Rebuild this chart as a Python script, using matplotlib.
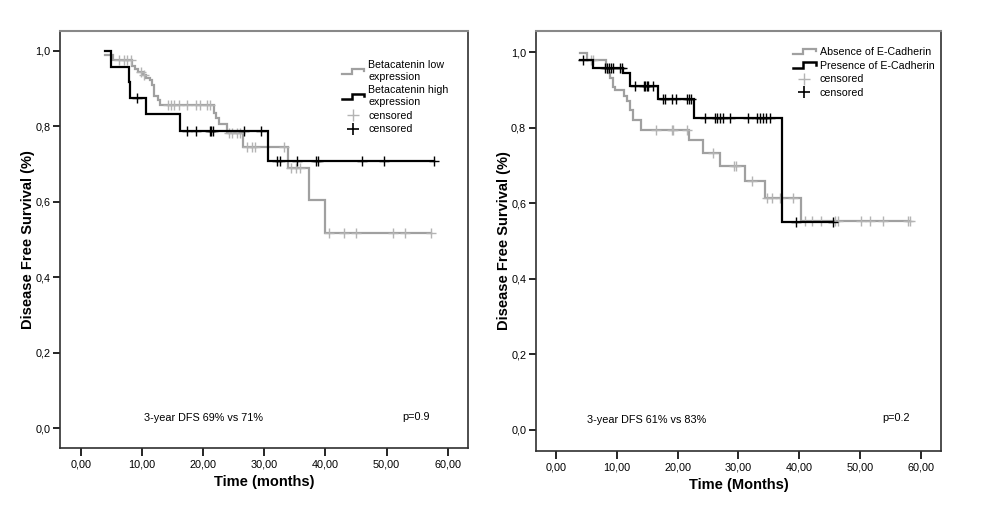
import matplotlib
matplotlib.use('Agg')
import matplotlib.pyplot as plt
import numpy as np
from matplotlib.lines import Line2D
from matplotlib.legend_handler import HandlerBase

plt.rcParams['font.family'] = ['Liberation Sans', 'DejaVu Sans']

# ---- data (time in months, survival fraction) ----
# left panel: beta-catenin
low_start = (3.9, 0.988)
low_event_t = [5.3, 8.4, 8.9, 9.3, 10.2, 10.7, 11.3, 11.7, 12.0, 12.6, 13.0,
               21.7, 22.1, 22.6, 23.9, 26.5, 33.8, 37.3, 39.9]
low_event_s = [0.976, 0.961, 0.952, 0.945, 0.936, 0.929, 0.922, 0.910, 0.881, 0.870, 0.857,
               0.835, 0.823, 0.806, 0.782, 0.744, 0.689, 0.605, 0.517]
low_end = 57.3
low_cens = [6.2, 7.1, 7.6, 8.2, 9.8, 10.4, 14.3, 14.8, 15.3, 16.0, 17.4, 18.8, 19.5,
            20.7, 21.2, 24.2, 24.7, 25.6, 26.1, 27.2, 28.0, 28.5, 33.2, 34.3, 35.1,
            35.9, 40.5, 43.0, 45.0, 51.0, 53.0, 57.3]

high_start = (3.9, 1.0)
high_event_t = [4.9, 7.9, 8.1, 10.7, 16.2, 30.6]
high_event_s = [0.958, 0.917, 0.875, 0.833, 0.788, 0.709]
high_end = 57.7
high_cens = [9.2, 17.4, 18.8, 21.1, 21.3, 21.6, 26.6, 29.4, 32.0, 32.6, 35.3,
             38.5, 38.7, 46.0, 49.6, 57.7]

# right panel: E-cadherin
abs_start = (3.9, 0.998)
abs_event_t = [5.1, 8.2, 8.6, 8.9, 9.3, 9.7, 11.1, 11.6, 12.2, 12.7, 14.0,
               21.8, 24.2, 27.0, 31.0, 34.4, 40.3]
abs_event_s = [0.978, 0.958, 0.945, 0.931, 0.909, 0.900, 0.883, 0.870, 0.846, 0.821, 0.794,
               0.767, 0.732, 0.698, 0.659, 0.613, 0.553]
abs_end = 58.2
abs_cens = [5.8, 6.1, 16.4, 19.0, 19.3, 21.5, 25.8, 29.2, 29.6, 32.2, 34.7, 35.5,
            36.8, 38.9, 41.0, 42.1, 43.5, 45.9, 46.4, 50.1, 51.6, 53.7, 57.8, 58.2]

pres_start = (3.9, 0.979)
pres_event_t = [6.0, 11.0, 12.2, 16.7, 22.7, 37.2]
pres_event_s = [0.958, 0.944, 0.911, 0.877, 0.825, 0.551]
pres_end = 45.6
pres_cens = [4.4, 8.1, 8.4, 8.7, 9.0, 9.3, 10.5, 10.8, 13.0, 14.4, 14.6, 14.9, 15.2,
             16.0, 17.6, 17.9, 19.0, 19.8, 21.5, 21.8, 22.2, 24.5, 26.2, 26.5, 27.0,
             27.4, 28.6, 31.5, 33.1, 33.6, 34.0, 34.5, 35.2, 39.4, 45.6]

left_labels = ['Betacatenin low\nexpression', 'Betacatenin high\nexpression', 'censored', 'censored']
right_labels = ['Absence of E-Cadherin', 'Presence of E-Cadherin', 'censored', 'censored']

GRAY = '#a0a0a0'
GRAY_C = '#b4b4b4'
BLACK = '#000000'


class StepHandler(HandlerBase):
    # little step icon like the SPSS legend
    def create_artists(self, legend, orig_handle, xdescent, ydescent, width, height, fontsize, trans):
        x0 = -xdescent
        y0 = -ydescent
        xs = [x0, x0 + 0.45 * width, x0 + 0.45 * width, x0 + width, x0 + width]
        ys = [y0 + 0.15 * height, y0 + 0.15 * height, y0 + 0.85 * height,
              y0 + 0.85 * height, y0 + 0.5 * height]
        ln = Line2D(xs, ys, color=orig_handle.get_color(), lw=orig_handle.get_linewidth(),
                    solid_joinstyle='miter')
        ln.set_transform(trans)
        return [ln]


def km(ax, start, ev_t, ev_s, end, cens, color, ccolor):
    t = np.r_[start[0], ev_t, end]
    s = np.r_[start[1], ev_s, ev_s[-1]]
    ax.step(t, s, where='post', color=color, lw=1.6, solid_joinstyle='miter')
    idx = np.searchsorted(t, cens, side='right') - 1
    ax.plot(cens, s[idx], ls='none', marker='+', ms=6.5, mew=1.0, color=ccolor)


def style_axes(ax, xlabel, xlim, ylim):
    ax.set_xlim(*xlim)
    ax.set_ylim(*ylim)
    ax.set_xticks(np.arange(0, 61, 10))
    ax.set_xticklabels(['%d,00' % v for v in range(0, 61, 10)])
    ax.set_yticks(np.arange(0, 1.01, 0.2))
    ax.set_yticklabels([('%.1f' % v).replace('.', ',') for v in np.arange(0, 1.01, 0.2)])
    ax.tick_params(axis='x', direction='out', length=6, width=1.2, labelsize=7.8, pad=2.5)
    ax.tick_params(axis='y', direction='out', length=5, width=1.2, labelsize=7.8, pad=2)
    for sp in ['left', 'bottom', 'right']:
        ax.spines[sp].set_color('#303030')
        ax.spines[sp].set_linewidth(1.2)
    ax.spines['top'].set_color('#888888')
    ax.spines['top'].set_linewidth(1.5)
    ax.set_xlabel(xlabel, fontsize=10.5, fontweight='bold', labelpad=4)
    ax.set_ylabel('Disease Free Survival (%)', fontsize=10.5, fontweight='bold', labelpad=0)


fig = plt.figure(figsize=(10.08, 5.19), dpi=100)
ax1 = fig.add_axes([0.0595, 0.1368, 0.4048, 0.8035])
ax2 = fig.add_axes([0.5317, 0.131, 0.4018, 0.8092])

km(ax1, low_start, low_event_t, low_event_s, low_end, low_cens, GRAY, GRAY_C)
km(ax1, high_start, high_event_t, high_event_s, high_end, high_cens, BLACK, BLACK)
style_axes(ax1, 'Time (months)', (-3.4, 63.3), (-0.053, 1.053))
ax1.text(10.3, 0.027, '3-year DFS 69% vs 71%', fontsize=7.8, va='center', ha='left')
ax1.text(52.5, 0.029, 'p=0.9', fontsize=7.8, va='center', ha='left')

km(ax2, abs_start, abs_event_t, abs_event_s, abs_end, abs_cens, GRAY, GRAY_C)
km(ax2, pres_start, pres_event_t, pres_event_s, pres_end, pres_cens, BLACK, BLACK)
style_axes(ax2, 'Time (Months)', (-3.3, 63.3), (-0.056, 1.056))
ax2.text(5.1, 0.026, '3-year DFS 61% vs 83%', fontsize=7.8, va='center', ha='left')
ax2.text(53.6, 0.032, 'p=0.2', fontsize=7.8, va='center', ha='left')


def make_legend(ax, labels, anchor):
    h = [Line2D([], [], color=GRAY, lw=1.6), Line2D([], [], color=BLACK, lw=1.8),
         Line2D([], [], color=GRAY_C, ls='none', marker='+', ms=9, mew=1.0),
         Line2D([], [], color=BLACK, ls='none', marker='+', ms=9, mew=1.2)]
    leg = ax.legend(h, labels, loc='upper left', bbox_to_anchor=anchor, frameon=False,
                    fontsize=7.7, handlelength=2.1, handletextpad=0.4, labelspacing=0.34,
                    borderpad=0, borderaxespad=0,
                    handler_map={h[0]: StepHandler(), h[1]: StepHandler()})
    return leg


make_legend(ax1, left_labels, (0.69, 0.93))
make_legend(ax2, right_labels, (0.635, 0.962))

fig.savefig('out.png', dpi=100)
